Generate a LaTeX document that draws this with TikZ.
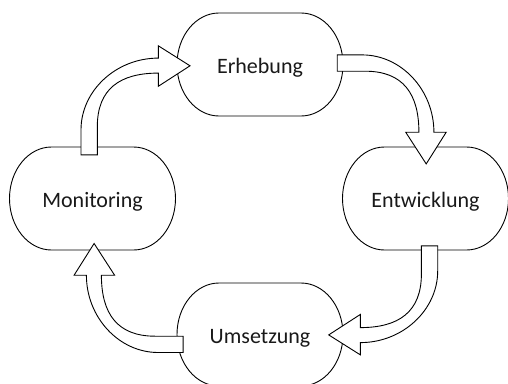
\documentclass[tikz,border=0pt]{standalone}
\usepackage{fontspec}
\setmainfont{Carlito}
\usetikzlibrary{calc}

\tikzset{
  % invisible frame that carries the label and the anchors
  stage/.style={minimum width=166pt, minimum height=103pt, inner sep=0pt,
    draw=none, font=\fontsize{22}{26}\selectfont, text=black!90,
    text height=18.6pt, text depth=0pt},
  outline/.style={draw=black, line width=0.9pt, fill=white},
  arrowline/.style={draw=black, line width=0.9pt, fill=white, line join=miter},
  % curved block arrow: tail at the origin heading up, bending to the right
  bendarrow/.pic={
    \draw[arrowline] (-8,0) -- (-8,25)
      .. controls (-8,64) and (27,96.7) .. (69.3,96.7)
      -- (69.3,109) -- (101,89) -- (69.3,68.5) -- (69.3,81.7)
      .. controls (31,81.7) and (8.3,66) .. (8.3,28)
      -- (8.3,0) -- cycle;
  }
}

\begin{document}
\begin{tikzpicture}[x=1pt,y=1pt]
  \useasboundingbox (0,0) rectangle (508,-383);
  \clip (0,0) rectangle (508,-383);

  % rounded stage outlines with elliptic ends
  \foreach \p in {(260,-64.5),(425.5,-198.5),(260,-334.5),(92.5,-198.5)} {
    \draw[outline] \p ++(-41,51.5) -- ++(82,0)
      arc[start angle=90, end angle=-90, x radius=42pt, y radius=51.5pt]
      -- ++(-82,0)
      arc[start angle=270, end angle=90, x radius=42pt, y radius=51.5pt]
      -- cycle;
  }

  % labels
  \node[stage] (erh) at (260,-64.5) {Erhebung};
  \node[stage] (ent) at (425.5,-198.5) {Entwicklung};
  \node[stage] (ums) at (260,-334.5) {Umsetzung};
  \node[stage] (mon) at (92.5,-198.5) {Monitoring};

  % cycle arrows
  \pic at ($(mon.north)+(-3.5,-8)$) {bendarrow};
  \pic[rotate=-90] at ($(erh.east)+(-6,1.6)$) {bendarrow};
  \pic[rotate=180] at ($(ent.south)+(4.2,4.3)$) {bendarrow};
  \pic[rotate=90] at ($(ums.west)+(6.3,-10)$) {bendarrow};
\end{tikzpicture}
\end{document}
